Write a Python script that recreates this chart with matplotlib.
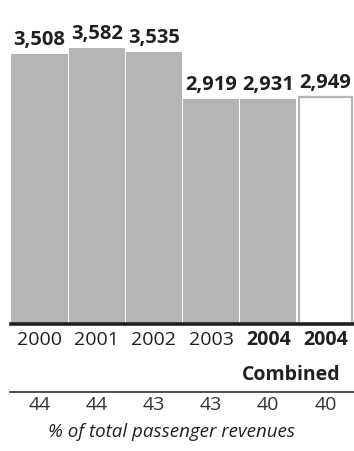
import matplotlib
matplotlib.use('Agg')
import matplotlib.pyplot as plt
import matplotlib.transforms as mtransforms

plt.rcParams['font.family'] = ['Open Sans', 'DejaVu Sans']

# data
years = ['2000', '2001', '2002', '2003', '2004', '2004']
values = [3508, 3582, 3535, 2919, 2931, 2949]
shares = ['44', '44', '43', '43', '40', '40']
bold_years = [False, False, False, False, True, True]
caption = '% of total passenger revenues'

W, H = 354, 451
DARK = '#231f20'
GRAY = '#b4b5b7'

fig = plt.figure(figsize=(W / 100, H / 100), dpi=100)
# axes: x from 11px to right edge, baseline at y=324px, top at y=0
ax = fig.add_axes([11 / W, 1 - 324 / H, 1 - 11 / W, 324 / H])
ax.set_xlim(-0.5, 5.5)
ax.set_ylim(0, 324 * 13.0)
ax.axis('off')

x = list(range(len(values)))
ax.bar(x[:-1], values[:-1], width=0.985, color=GRAY, edgecolor='none')
ax.bar(x[-1], values[-1], width=0.94, color='white', edgecolor=GRAY,
       linewidth=1.6)

for xi, v in zip(x, values):
    ax.annotate(f'{v:,}', (xi, v), xytext=(0, 6.5), textcoords='offset points',
                ha='center', va='baseline', fontsize=14.5, fontweight='bold',
                color=DARK)

# thick baseline
ax.axhline(0, xmin=0, xmax=1, color=DARK, linewidth=2.6, clip_on=False)

trans = mtransforms.blended_transform_factory(ax.transData, fig.transFigure)

def fy(px):
    return 1 - px / H

for xi, yr, b in zip(x, years, bold_years):
    ax.text(xi, fy(345), yr, transform=trans, ha='center', va='baseline',
            fontsize=14, fontweight='bold' if b else 'normal', color=DARK)
ax.text(x[-1] + 0.27, fy(380), 'Combined', transform=trans, ha='right',
        va='baseline', fontsize=14, fontweight='bold', color=DARK)

# thin rule
fig.add_artist(plt.Line2D([10 / W, 1], [fy(392), fy(392)], color=DARK,
                          linewidth=1.1, transform=fig.transFigure))

for xi, s in zip(x, shares):
    ax.text(xi, fy(410), s, transform=trans, ha='center', va='baseline',
            fontsize=14, color='#333333')

fig.text(172 / W, fy(437), caption, ha='center', va='baseline', fontsize=13.5,
         fontstyle='italic', color=DARK)

fig.savefig('out.png', dpi=100)
